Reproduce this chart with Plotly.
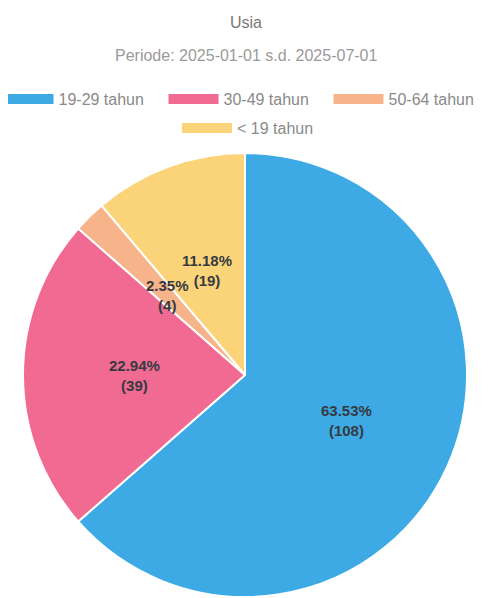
import math
import plotly.graph_objects as go

title = "Usia"
subtitle = "Periode: 2025-01-01 s.d. 2025-07-01"
categories = ["19-29 tahun", "30-49 tahun", "50-64 tahun", "< 19 tahun"]
values = [108, 39, 4, 19]
colors = ["#3DAAE6", "#F06A92", "#F7B48A", "#FBD47A"]

W, H = 492, 598
OFF = 8  # page body margin offset
CX, CY, R = 245 - OFF, 375 - OFF, 222  # pie centre / radius in px
FONT = "Liberation Sans, Arial"

fig = go.Figure()
fig.add_trace(go.Pie(
    labels=categories, values=values, sort=False, direction="clockwise",
    rotation=0, marker=dict(colors=colors, line=dict(color="white", width=2)),
    textinfo="none", hoverinfo="label+value+percent", showlegend=False,
    domain=dict(x=[(CX - R) / W, (CX + R) / W], y=[(H - CY - R) / H, (H - CY + R) / H]),
))

for i, (c, col) in enumerate(zip(categories, colors)):
    fig.add_trace(go.Scatter(
        x=[None], y=[None], mode="lines", name=c,
        line=dict(color=col, width=13),
        legend="legend" if i < 3 else "legend2",
    ))

total = sum(values)
cum = 0
annotations = []
for v in values:
    mid = (cum + v / 2) / total * 2 * math.pi
    cum += v
    px = CX + 0.5 * R * math.sin(mid)
    py = CY - 0.5 * R * math.cos(mid)
    annotations.append(dict(
        x=px / W, y=1 - py / H, xref="paper", yref="paper", showarrow=False,
        xanchor="center", yanchor="middle",
        text=f"<b>{v / total * 100:.2f}%<br>({v})</b>",
        font=dict(size=15, color="#363a40", family=FONT),
        align="center",
    ))
annotations.append(dict(
    x=0.5 - OFF / W, y=1 - (55 - OFF) / H, xref="paper", yref="paper", showarrow=False,
    xanchor="center", yanchor="middle",
    text=subtitle, font=dict(size=16, color="#9a9a9a", family=FONT),
))

legend_common = dict(
    orientation="h", xanchor="center", yanchor="middle",
    font=dict(size=16, color="#8a8a8a", family=FONT),
    bgcolor="rgba(0,0,0,0)", itemclick=False, itemdoubleclick=False,
    itemwidth=50,
)

fig.update_layout(
    width=W, height=H, margin=dict(l=0, r=0, t=0, b=0, autoexpand=False),
    paper_bgcolor="white", plot_bgcolor="white",
    title=dict(text=title, x=0.5 - OFF / W, xanchor="center", y=1 - (22 - OFF) / H, yanchor="middle",
               font=dict(size=16, color="#777", family=FONT)),
    xaxis=dict(visible=False), yaxis=dict(visible=False),
    legend=dict(y=1 - (99 - OFF) / H, x=0.5 - OFF / W, entrywidth=100, **legend_common),
    legend2=dict(y=1 - (128 - OFF) / H, x=0.5 - (OFF - 2) / W, **legend_common),
    annotations=annotations,
    showlegend=True,
)

fig.write_html("out.html")
